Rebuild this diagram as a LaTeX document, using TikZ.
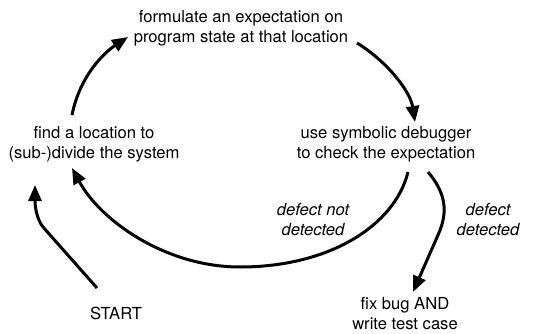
\documentclass[tikz,border=0pt]{standalone}
\usepackage{fontspec}
\setmainfont{TeX Gyre Heros}
\usetikzlibrary{arrows.meta}
\begin{document}
\begin{tikzpicture}[x=1pt,y=-1pt,
  lbl/.style={align=center,inner sep=0pt,font=\fontsize{16.6}{20}\selectfont},
  ilbl/.style={lbl,font=\fontsize{16.6}{20}\selectfont\itshape},
  arr/.style={line width=3pt,-{Triangle[length=16pt,width=13pt]}}]
\useasboundingbox (0,0) rectangle (543,334);
\node[lbl] (top) at (241,28) {formulate an expectation on\\program state at that location};
\node[lbl] (left) at (94,144) {find a location to\\(sub-)divide the system};
\node[lbl] (right) at (386,144) {use symbolic debugger\\to check the expectation};
\node[lbl] (start) at (116,313) {START};
\node[lbl] (fix) at (405,314) {fix bug AND\\write test case};
\node[ilbl] (nd) at (313,220) {defect not\\detected};
\node[ilbl] (dd) at (488,220) {defect\\detected};
% left -> top
\draw[arr] ([shift={(-22,-29)}]left.center) .. controls (80,75) and (105,52) .. ([shift={(-113,9)}]top.center);
% top -> right
\draw[arr] ([shift={(116,15)}]top.center) .. controls (385,60) and (410,90) .. ([shift={(29,-22)}]right.center);
% right -> left (defect not detected)
\draw[arr] ([shift={(22,28)}]right.center) .. controls (395,225) and (330,267) .. (240,267) .. controls (165,267) and (100,220) .. ([shift={(-22,24)}]left.center);
% right -> fix (defect detected)
\draw[arr] ([shift={(42,28)}]right.center) .. controls (445,192) and (449,211) .. (438,235) -- ([shift={(8,-22)}]fix.center);
% start -> left
\draw[arr] ([shift={(-19,-25)}]start.center) -- (43,227) .. controls (36,218) and (35,205) .. ([shift={(-59,41)}]left.center);
\end{tikzpicture}
\end{document}
